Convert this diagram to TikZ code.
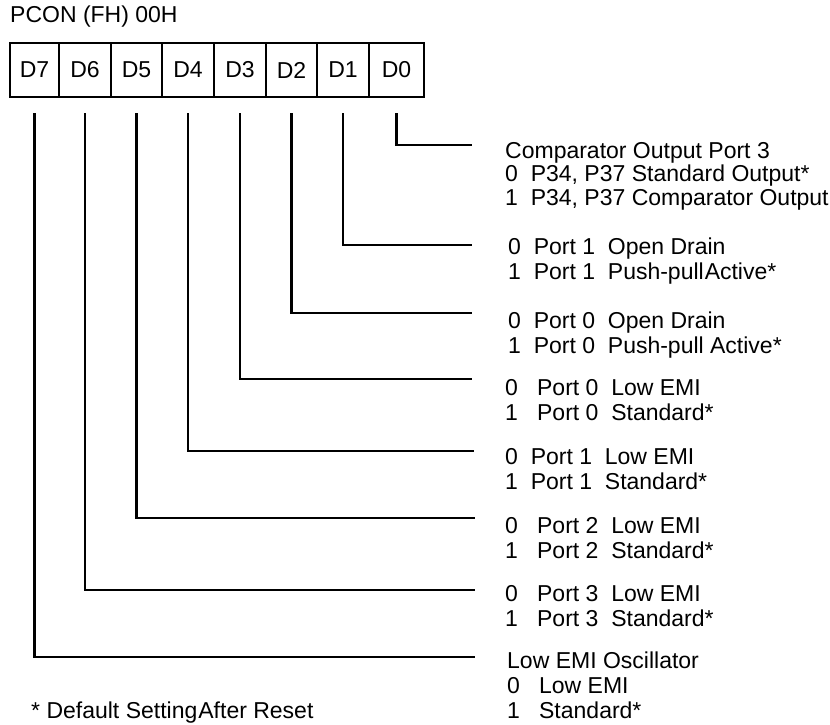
\documentclass[tikz,border=0pt]{standalone}
\usepackage{fontspec}
\setmainfont{Liberation Sans}
\usetikzlibrary{positioning}
\tikzset{
  bitcell/.style={draw,line width=2pt,outer sep=0pt,inner sep=0pt,minimum width=#1,minimum height=54pt,font=\fontsize{23}{25}\selectfont},
  wire/.style={line width=2.6pt},
  lbl/.style={anchor=north west,align=left,inner sep=0pt,font=\fontsize{23}{25}\selectfont},
}

\begin{document}
\begin{tikzpicture}[x=1pt,y=-1pt]
      \useasboundingbox (0,0) rectangle (830,725);
      \node[lbl] (title) at (10,6) {PCON (FH) 00H};
      % register bits
      \node[bitcell=49pt,anchor=north west] (d7) at (10,43) {D7};
      \node[bitcell=52pt,right=0pt of d7] (d6) {D6};
      \node[bitcell=51pt,right=0pt of d6] (d5) {D5};
      \node[bitcell=52pt,right=0pt of d5] (d4) {D4};
      \node[bitcell=52pt,right=0pt of d4] (d3) {D3};
      \node[bitcell=51pt,right=0pt of d3] (d2) {D2};
      \node[bitcell=52pt,right=0pt of d2] (d1) {D1};
      \node[bitcell=55pt,right=0pt of d1] (d0) {D0};
      % bit descriptions
      \node[lbl] (t0) at (505,142) {Comparator Output Port 3\\[-2pt]
        0~~P34, P37 Standard Output*\\[-1pt]
        1~~P34, P37 Comparator Output};
      \node[lbl] (t1) at (508,238) {0~~Port 1~~Open Drain\\1~~Port 1~~Push-pull\hspace{1pt}Active*};
      \node[lbl] (t2) at (508,312) {0~~Port 0~~Open Drain\\1~~Port 0~~Push-pull Active*};
      \node[lbl] (t3) at (505,379) {0~~~Port 0~~Low EMI\\1~~~Port 0~~Standard*};
      \node[lbl] (t4) at (505,448) {0~~Port 1~~Low EMI\\1~~Port 1~~Standard*};
      \node[lbl] (t5) at (505,517) {0~~~Port 2~~Low EMI\\1~~~Port 2~~Standard*};
      \node[lbl] (t6) at (505,585) {0~~~Port 3~~Low EMI\\1~~~Port 3~~Standard*};
      \node[lbl] (t7) at (507,652) {Low EMI Oscillator\\0~~~Low EMI\\1~~~Standard*};
      \node[lbl] (note) at (31,702) {* Default Setting\hspace{1pt}After Reset};
      % line ends
      \coordinate (e0) at (472,145);
      \coordinate (e1) at (472,245);
      \coordinate (e2) at (472,313);
      \coordinate (e3) at (472,379);
      \coordinate (e4) at (474,451);
      \coordinate (e5) at (475,518);
      \coordinate (e6) at (475,590);
      \coordinate (e7) at (475,657);
      \draw[wire] ([yshift=-16pt]d0.south) |- (e0);
      \draw[wire] ([yshift=-16pt]d1.south) |- (e1);
      \draw[wire] ([yshift=-16pt]d2.south) |- (e2);
      \draw[wire] ([yshift=-16pt]d3.south) |- (e3);
      \draw[wire] ([yshift=-16pt]d4.south) |- (e4);
      \draw[wire] ([yshift=-16pt]d5.south) |- (e5);
      \draw[wire] ([yshift=-16pt]d6.south) |- (e6);
      \draw[wire] ([yshift=-16pt]d7.south) |- (e7);
\end{tikzpicture}
\end{document}
